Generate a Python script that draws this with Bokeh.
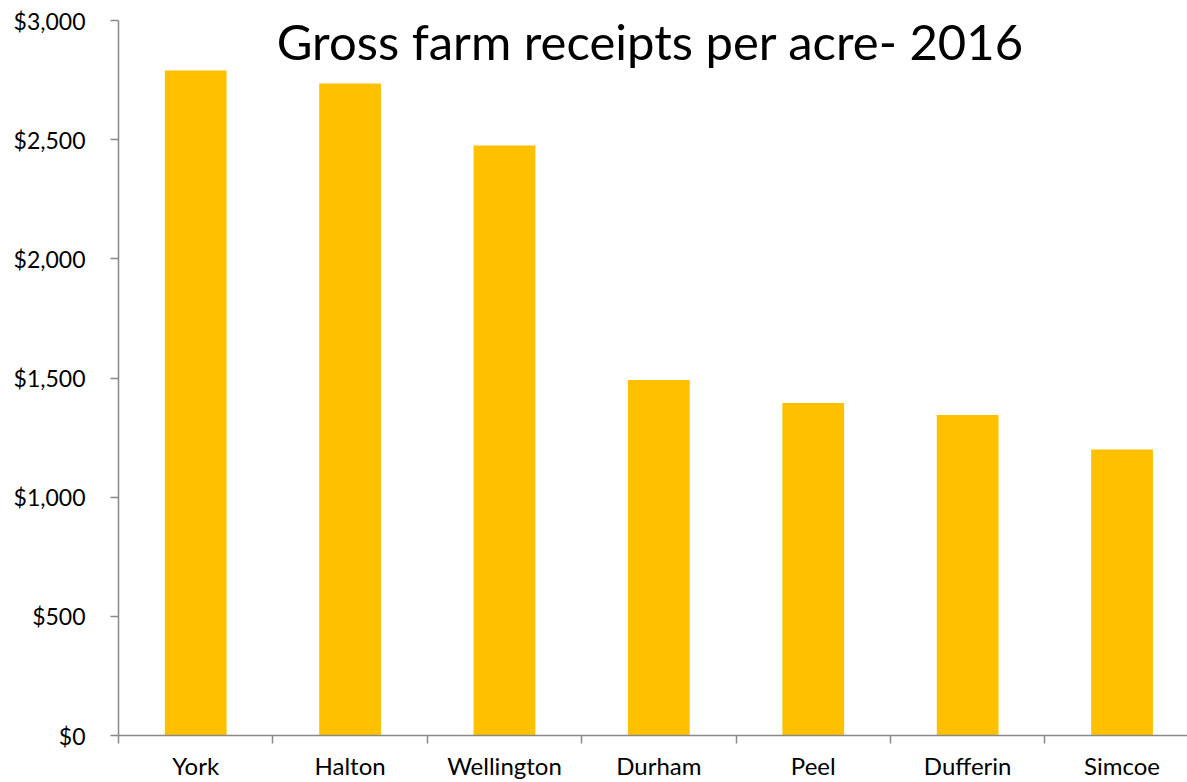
from bokeh.plotting import figure
from bokeh.models import Range1d, FixedTicker, NumeralTickFormatter, Label
from bokeh.embed import file_html
from bokeh.resources import INLINE

categories = ["York", "Halton", "Wellington", "Durham", "Peel", "Dufferin", "Simcoe"]
receipts = [2790, 2736, 2476, 1492, 1395, 1345, 1200]
y_ticks = [0, 500, 1000, 1500, 2000, 2500, 3000]
title_text = "Gross farm receipts per acre- 2016"

FONT = "Lato"
AXIS_COLOR = "#898989"
BAR_COLOR = "#FFC000"

n = len(categories)
centers = [i + 0.5 for i in range(n)]
visible_fraction = 6.924  # portion of category span visible (chart is cropped at right)

p = figure(width=1187, height=782, output_backend="svg", toolbar_location=None,
           x_range=Range1d(0, visible_fraction), y_range=Range1d(0, 3000),
           min_border_left=118, min_border_right=0, min_border_top=20, min_border_bottom=46)
p.outline_line_color = None
p.xgrid.grid_line_color = None
p.ygrid.grid_line_color = None
p.background_fill_color = "white"
p.border_fill_color = "white"

p.vbar(x=centers, top=receipts, width=0.4, bottom=0, fill_color=BAR_COLOR, line_color=None)

# x axis
xa = p.xaxis[0]
xa.ticker = FixedTicker(ticks=centers, minor_ticks=list(range(n + 1)))
xa.major_label_overrides = {c: name for c, name in zip(centers, categories)}
xa.major_tick_out = 0
xa.major_tick_in = 0
xa.minor_tick_out = 8
xa.minor_tick_in = 0
xa.minor_tick_line_color = AXIS_COLOR
xa.minor_tick_line_width = 1.5
xa.axis_line_color = AXIS_COLOR
xa.axis_line_width = 1.5
xa.major_label_text_font = FONT
xa.major_label_text_font_size = "24px"
xa.major_label_text_color = "black"
xa.major_label_standoff = 7

# y axis
ya = p.yaxis[0]
ya.ticker = FixedTicker(ticks=y_ticks)
ya.formatter = NumeralTickFormatter(format="$0,0")
ya.major_tick_out = 8
ya.major_tick_in = 0
ya.minor_tick_line_color = None
ya.major_tick_line_color = AXIS_COLOR
ya.major_tick_line_width = 1.5
ya.axis_line_color = AXIS_COLOR
ya.axis_line_width = 1.5
ya.major_label_text_font = FONT
ya.major_label_text_font_size = "23px"
ya.major_label_text_color = "black"
ya.major_label_standoff = 25

title = Label(x=3.445, y=2912, text=title_text, text_align="center", text_baseline="alphabetic",
              text_font=FONT, text_font_size="49px", text_color="black")
p.add_layout(title)

open("out.html", "w").write(file_html(p, INLINE))
